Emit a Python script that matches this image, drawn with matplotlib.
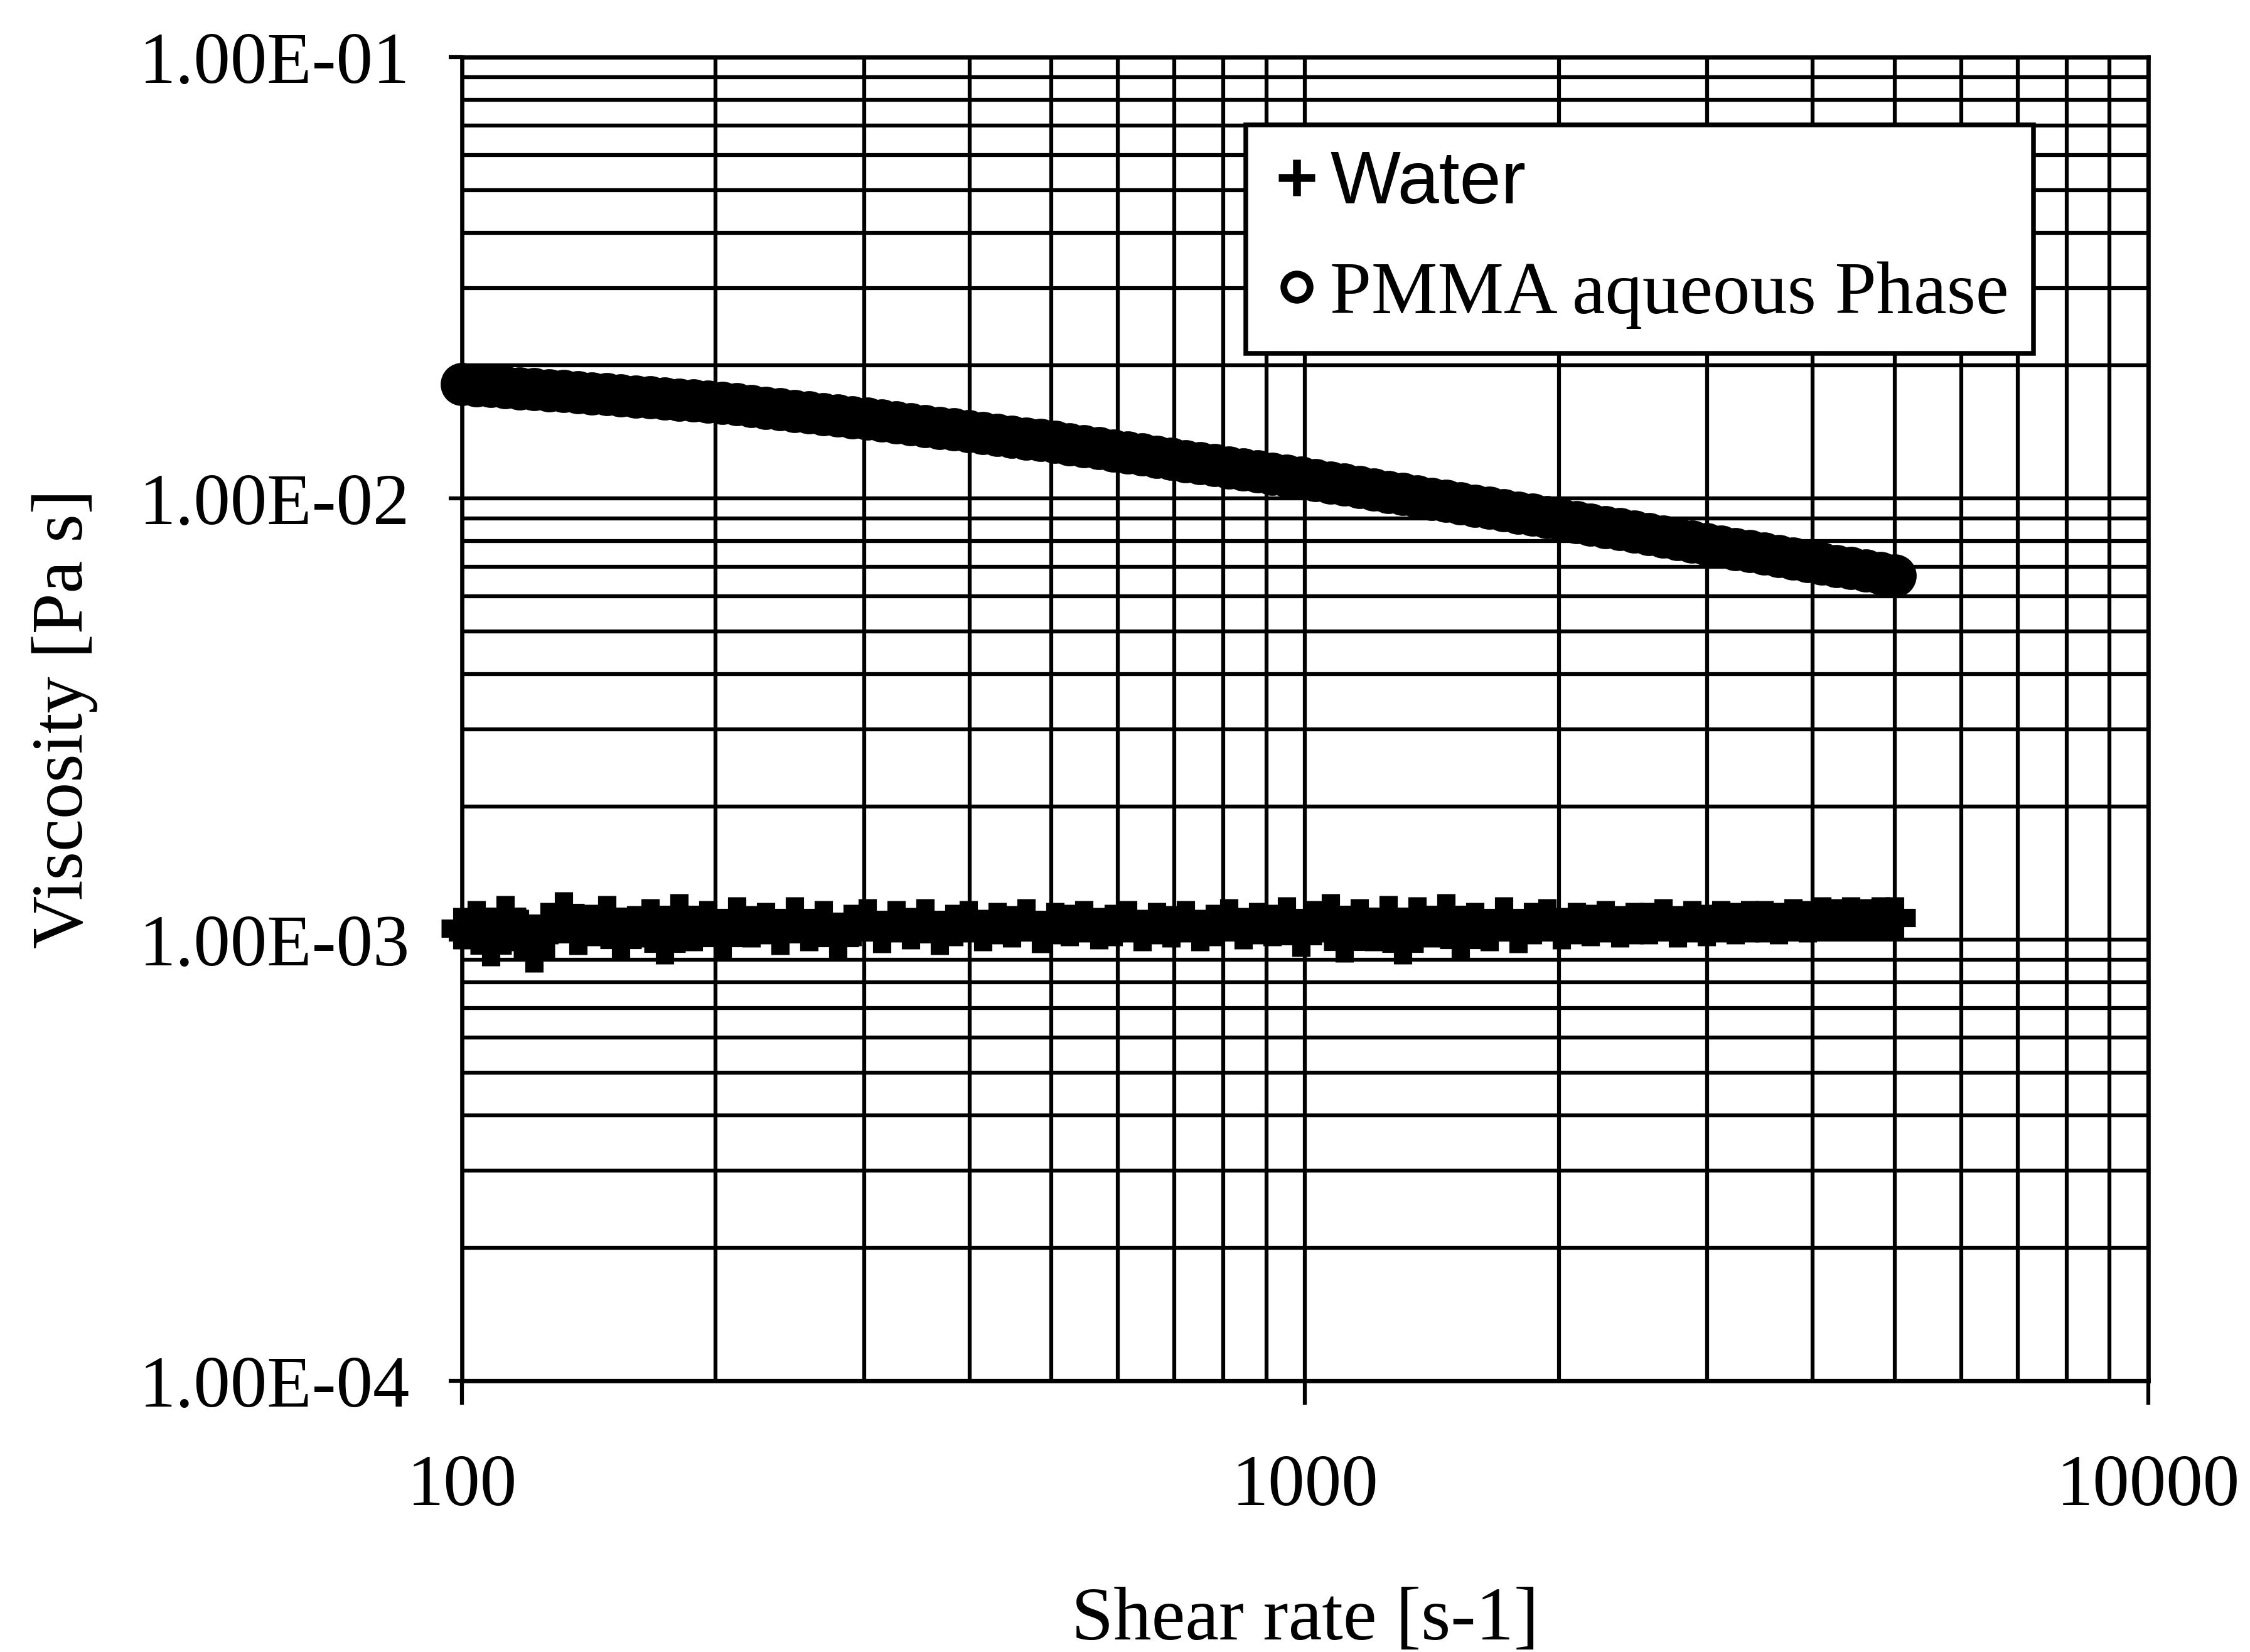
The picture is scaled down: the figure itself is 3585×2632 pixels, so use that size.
import matplotlib
matplotlib.use('Agg')
import matplotlib.pyplot as plt
from matplotlib.lines import Line2D
from matplotlib.ticker import FixedLocator, FuncFormatter, NullFormatter

plt.rcParams['font.family'] = ['Liberation Serif', 'DejaVu Serif']

# shear rate [s-1], same sweep for both samples
shear_rate = [
    100.0, 104.0, 108.2, 112.6, 117.1, 121.8, 126.8, 131.9, 137.2, 142.7,
    148.5, 154.4, 160.7, 167.1, 173.9, 180.9, 188.2, 195.8, 203.7, 211.9,
    220.4, 229.3, 238.5, 248.1, 258.1, 268.5, 279.4, 290.6, 302.4, 314.6,
    327.3, 340.5, 354.2, 368.4, 383.3, 398.7, 414.8, 431.5, 448.9, 467.0,
    485.9, 505.5, 525.8, 547.0, 569.1, 592.0, 615.9, 640.7, 666.5, 693.4,
    721.3, 750.4, 780.6, 812.1, 844.8, 878.9, 914.4, 951.2, 989.5, 1029,
    1071, 1114, 1159, 1206, 1254, 1305, 1357, 1412, 1469, 1528,
    1590, 1654, 1721, 1790, 1862, 1937, 2015, 2097, 2181, 2269,
    2361, 2456, 2555, 2658, 2765, 2876, 2992, 3113, 3238, 3369,
    3505, 3646, 3793, 3946, 4105, 4270, 4442, 4621, 4808, 5000,
]

# viscosity of water [mPa s]
water = [
    1.06, 1.10, 0.97, 1.13, 1.05, 0.94, 1.09, 1.15, 1.03, 1.08,
    1.13, 1.00, 1.07, 1.11, 0.98, 1.14, 1.05, 1.10, 1.01, 1.12,
    1.07, 1.09, 1.03, 1.12, 1.05, 1.10, 1.01, 1.08, 1.11, 1.04,
    1.10, 1.06, 1.11, 1.03, 1.08, 1.10, 1.05, 1.09, 1.07, 1.11,
    1.04, 1.09, 1.08, 1.10, 1.06, 1.08, 1.10, 1.05, 1.09, 1.07,
    1.10, 1.05, 1.08, 1.11, 1.06, 1.09, 1.08, 1.12, 1.02, 1.10,
    1.14, 0.99, 1.11, 1.05, 1.13, 0.98, 1.12, 1.07, 1.14, 1.00,
    1.09, 1.05, 1.12, 1.04, 1.09, 1.11, 1.06, 1.09, 1.08, 1.10,
    1.07, 1.09, 1.09, 1.11, 1.07, 1.10, 1.08, 1.10, 1.09, 1.10,
    1.10, 1.09, 1.11, 1.10, 1.12, 1.11, 1.12, 1.11, 1.12, 1.12,
]

# viscosity of PMMA aqueous phase [10 mPa s]
pmma = [
    1.8155, 1.8058, 1.7961, 1.7865, 1.7769, 1.7674, 1.7579, 1.7485, 1.7391, 1.7298,
    1.7205, 1.7113, 1.7021, 1.6930, 1.6839, 1.6749, 1.6659, 1.6569, 1.6459, 1.6323,
    1.6188, 1.6054, 1.5921, 1.5789, 1.5659, 1.5529, 1.5401, 1.5274, 1.5143, 1.5003,
    1.4864, 1.4727, 1.4591, 1.4456, 1.4323, 1.4190, 1.4059, 1.3929, 1.3801, 1.3673,
    1.3547, 1.3415, 1.3268, 1.3124, 1.2980, 1.2839, 1.2699, 1.2560, 1.2423, 1.2287,
    1.2153, 1.2020, 1.1889, 1.1759, 1.1631, 1.1504, 1.1378, 1.1254, 1.1131, 1.0998,
    1.0866, 1.0735, 1.0606, 1.0478, 1.0352, 1.0227, 1.0104, 0.9983, 0.9863, 0.9744,
    0.9627, 0.9511, 0.9396, 0.9283, 0.9171, 0.9061, 0.8951, 0.8838, 0.8726, 0.8616,
    0.8507, 0.8399, 0.8293, 0.8188, 0.8084, 0.7982, 0.7881, 0.7781, 0.7683, 0.7586,
    0.7491, 0.7397, 0.7304, 0.7212, 0.7121, 0.7031, 0.6943, 0.6856, 0.6769, 0.6684,
]

x_ticks = [100, 1000, 10000]
y_ticks = [1e-4, 1e-3, 1e-2, 1e-1]
labels = ['Water', 'PMMA aqueous Phase']


def paint():
    fig = plt.figure(figsize=(3585 / 300, 2632 / 300), dpi=300)
    ax = fig.add_axes([0.2053, 0.1641, 0.7495, 0.8013])

    ax.set_xscale('log')
    ax.set_yscale('log')
    ax.set_xlim(100, 10000)
    ax.set_ylim(1e-4, 1e-1)

    ax.plot(shear_rate, [v * 1e-3 for v in water], linestyle='none',
            marker='+', markersize=16, markeredgewidth=7, color='black',
            clip_on=False, zorder=3)
    ax.plot(shear_rate, [v * 1e-2 for v in pmma], linestyle='none',
            marker='o', markersize=15, markeredgewidth=1.5,
            color='black', markerfacecolor='black', clip_on=False, zorder=4)

    ax.set_axisbelow(True)
    ax.grid(True, which='both', color='black', linewidth=1.5)
    for s in ax.spines.values():
        s.set_linewidth(1.6)

    ax.xaxis.set_major_locator(FixedLocator(x_ticks))
    ax.xaxis.set_major_formatter(FuncFormatter(lambda v, p: '%d' % v))
    ax.xaxis.set_minor_formatter(NullFormatter())
    ax.yaxis.set_major_locator(FixedLocator(y_ticks))
    ax.yaxis.set_major_formatter(FuncFormatter(lambda v, p: '%.2E' % v))
    ax.yaxis.set_minor_formatter(NullFormatter())
    ax.tick_params(axis='x', which='major', length=9, width=1.5, pad=19, labelsize=28)
    ax.tick_params(axis='y', which='major', length=5, width=1.5, pad=15, labelsize=28)
    ax.tick_params(which='minor', length=0)

    ax.set_xlabel('Shear rate [s-1]', fontsize=29, va='center')
    ax.xaxis.set_label_coords(0.5, -0.1816)
    ax.set_ylabel('Viscosity [Pa s]', fontsize=28, va='center')
    ax.yaxis.set_label_coords(-0.2356, 0.5)

    handles = [
        Line2D([], [], linestyle='none', marker='+', markersize=14,
               markeredgewidth=3, color='black'),
        Line2D([], [], linestyle='none', marker='o', markersize=10,
               markeredgewidth=2.6, color='black', markerfacecolor='white'),
    ]
    leg = ax.legend(handles, labels, loc='upper left',
                    bbox_to_anchor=(0.5537, 0.9244), bbox_transform=fig.transFigure,
                    fontsize=28.5, frameon=True, fancybox=False, framealpha=1,
                    edgecolor='black', borderpad=0.33, labelspacing=0.56,
                    handlelength=0.7, handletextpad=0.1, borderaxespad=0)
    leg.get_frame().set_linewidth(1.8)
    leg.get_texts()[0].set_fontfamily(['Liberation Sans', 'DejaVu Sans'])

    plt.savefig('out.png', dpi=300)
    plt.close(fig)


def main():
    paint()


main()
